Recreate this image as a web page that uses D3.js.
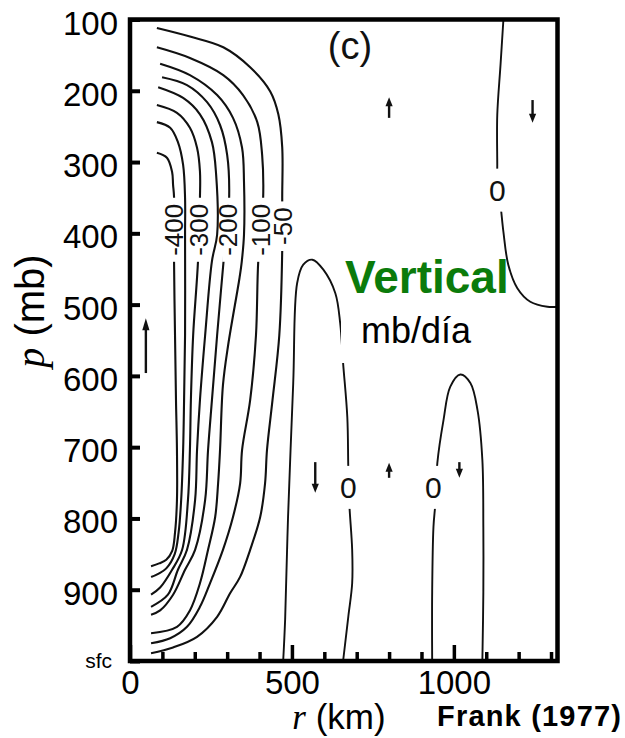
<!DOCTYPE html>
<html>
<head>
<meta charset="utf-8">
<script src="https://cdn.jsdelivr.net/npm/d3@7"></script>
<style>
  body { margin: 0; background: #fff; }
  svg { display: block; font-family: 'Liberation Sans', Arial, Helvetica, sans-serif; }
</style>
</head>
<body>
<svg id="chart"></svg>
<script>
// axis ticks
const pressureTicks = [100, 200, 300, 400, 500, 600, 700, 800, 900, 1000];
const pressureTickLabels = ['100', '200', '300', '400', '500', '600', '700', '800', '900', 'sfc'];
const radiusMajorTicks = [0, 500, 1000];
const radiusMinorTicks = [100, 200, 300, 400, 600, 700, 800, 900, 1100, 1200, 1300];

// contour levels (mb/day) and their lines as [r km, p mb]
const contourLevels = [-50, -100, -150, -200, -250, -300, -350, -400, 0, 0, 0];
const contourLines = [
  [[83,112],[185,124],[288,139],[371,167],[433,201],[458,233],[470,279],[470,350],[470,424],[461,543],[440,634],[423,704],[417,751],[402,798],[371,844],[340,882],[309,905],[269,938],[207,966],[133,981],[65,989]],
  [[83,139],[185,154],[288,178],[349,206],[393,244],[408,290],[411,353],[396,439],[389,543],[371,634],[346,704],[340,751],[318,798],[287,844],[247,891],[216,924],[176,952],[124,968],[65,975]],
  [[93,162],[185,178],[269,206],[318,238],[346,280],[352,328],[352,402],[345,440],[338,463],[303,557],[287,613],[278,704],[272,751],[263,798],[241,844],[216,891],[185,929],[145,952],[65,961]],
  [[99,181],[176,192],[238,216],[278,248],[300,290],[306,353],[294,413],[269,543],[253,634],[241,704],[232,774],[201,844],[170,872],[133,907],[93,929],[65,935]],
  [[87,195],[164,210],[216,233],[253,272],[266,318],[269,402],[253,439],[232,543],[216,634],[207,704],[201,774],[176,844],[148,872],[117,907],[65,924]],
  [[83,220],[145,231],[185,252],[207,280],[216,313],[216,350],[210,439],[195,543],[188,634],[185,704],[179,774],[161,844],[130,872],[93,897],[65,907]],
  [[83,244],[124,252],[148,272],[164,304],[170,350],[170,402],[170,543],[167,634],[164,704],[158,774],[150,820],[138,850],[112,870],[90,877],[65,882]],
  [[83,287],[114,294],[130,314],[133,332],[136,349],[136,439],[139,543],[142,634],[145,704],[145,774],[139,820],[130,846],[112,858],[90,863],[65,867]],
  [[473,1000],[479,942],[488,798],[504,610],[516,470],[535,444],[563,437],[597,451],[634,484],[649,526],[658,582],[671,658],[674,728],[677,778],[686,844],[686,891],[674,938],[658,1000]],
  [[933,1000],[933,904],[937,812],[943,778],[949,722],[968,662],[989,615],[1020,598],[1051,610],[1073,648],[1088,718],[1091,812],[1091,904],[1088,1000]],
  [[1153,100],[1144,164],[1134,234],[1134,304],[1134,328],[1144,360],[1153,398],[1168,444],[1196,477],[1236,496],[1289,503],[1320,503]]
];

// contour labels placed on the lines
const labelText = ['-400', '-300', '-200', '-100', '-50', '0', '0', '0'];
const labelR = [136, 213, 300, 403, 470, 674, 937, 1134];
const labelP = [395, 395, 395, 395, 390, 756, 756, 339];
const labelRotated = [true, true, true, true, true, false, false, false];

// direction arrows: r, tail p, head p
const arrowR = [49, 572, 800, 1017, 800, 1243];
const arrowTail = [596, 721, 743, 721, 238, 213];
const arrowHead = [519, 764, 722, 743, 209, 245];

const W = 625, H = 738;
const svg = d3.select('#chart').attr('width', W).attr('height', H);

const x = d3.scaleLinear().domain([0, 1320]).range([130, 557.5]);
const y = d3.scaleLinear().domain([100, 1000]).range([19.5, 661]);

// mask used to break contours under their labels
const defs = svg.append('defs');
const mask = defs.append('mask').attr('id', 'labelMask')
  .attr('maskUnits', 'userSpaceOnUse')
  .attr('x', 0).attr('y', 0).attr('width', W).attr('height', H);
mask.append('rect').attr('width', W).attr('height', H).attr('fill', 'white');

const line = d3.line()
  .x(d => x(d[0]))
  .y(d => y(d[1]))
  .curve(d3.curveCatmullRom.alpha(0.5));

svg.append('g')
  .attr('mask', 'url(#labelMask)')
  .selectAll('path')
  .data(contourLines)
  .enter()
  .append('path')
  .attr('d', line)
  .attr('fill', 'none')
  .attr('stroke', '#111')
  .attr('stroke-width', (d, i) => contourLevels[i] === 0 ? 1.9 : 2.1);

// labels
labelText.forEach((t, i) => {
  const tr = `translate(${x(labelR[i])},${y(labelP[i])})` + (labelRotated[i] ? ' rotate(-90)' : '');
  const txt = svg.append('text')
    .attr('transform', tr)
    .attr('text-anchor', 'middle')
    .attr('dy', '0.36em')
    .attr('font-size', labelRotated[i] ? 26 : 30)
    .attr('fill', '#111')
    .text(t);
  const bb = txt.node().getBBox();
  if (labelRotated[i]) {
    mask.append('rect').attr('transform', tr)
      .attr('x', bb.x - 6).attr('width', bb.width + 12)
      .attr('y', -5).attr('height', 10).attr('fill', 'black');
  } else {
    mask.append('rect').attr('transform', tr)
      .attr('x', -6).attr('width', 12)
      .attr('y', bb.y - 5).attr('height', bb.height + 10).attr('fill', 'black');
  }
});

// arrows
arrowR.forEach((r, i) => {
  const ax = x(r), y0 = y(arrowTail[i]), y1 = y(arrowHead[i]);
  const dir = y1 < y0 ? -1 : 1;
  const hl = i === 0 ? 12 : 9, hw = 3.6;
  svg.append('line')
    .attr('x1', ax).attr('x2', ax)
    .attr('y1', y0).attr('y2', y1 - dir * hl * 0.6)
    .attr('stroke', '#111').attr('stroke-width', 2.4);
  svg.append('path')
    .attr('d', `M${ax},${y1} L${ax - hw},${y1 - dir * hl} L${ax + hw},${y1 - dir * hl} Z`)
    .attr('fill', '#111');
});

// axes
const yAxis = d3.axisLeft(y)
  .tickValues(pressureTicks)
  .tickSize(-10)
  .tickPadding(12)
  .tickFormat((d, i) => pressureTickLabels[i]);
const gy = svg.append('g').attr('transform', 'translate(130,0)').call(yAxis);
gy.select('.domain').remove();
gy.selectAll('line').attr('stroke', '#000').attr('stroke-width', 4);
gy.selectAll('text')
  .attr('fill', '#000')
  .attr('font-size', 33)
  .attr('dy', '0.44em')
  .attr('font-family', "'Liberation Sans', Arial, sans-serif");
gy.selectAll('text').filter(d => d === 1000)
  .attr('font-size', 21)
  .attr('x', -18)
  .attr('dy', '0.3em');

const xAxisMinor = d3.axisBottom(x).tickValues(radiusMinorTicks).tickSize(-9).tickFormat('');
const gxm = svg.append('g').attr('transform', 'translate(0,661)').call(xAxisMinor);
gxm.select('.domain').remove();
gxm.selectAll('line').attr('stroke', '#000').attr('stroke-width', 3.5);

const xAxis = d3.axisBottom(x)
  .tickValues(radiusMajorTicks)
  .tickSize(-16)
  .tickPadding(10)
  .tickFormat(d3.format('d'));
const gx = svg.append('g').attr('transform', 'translate(0,661)').call(xAxis);
gx.select('.domain').remove();
gx.selectAll('line').attr('stroke', '#000').attr('stroke-width', 3.5);
gx.selectAll('text')
  .attr('fill', '#000')
  .attr('font-size', 33)
  .attr('font-family', "'Liberation Sans', Arial, sans-serif");

// frame
svg.append('rect')
  .attr('x', x.range()[0]).attr('y', y.range()[0])
  .attr('width', x.range()[1] - x.range()[0])
  .attr('height', y.range()[1] - y.range()[0])
  .attr('fill', 'none')
  .attr('stroke', '#000')
  .attr('stroke-width', 4.5);

// axis titles
const yTitle = svg.append('text')
  .attr('transform', 'translate(44,311) rotate(-90)')
  .attr('text-anchor', 'middle')
  .attr('font-size', 40)
  .attr('fill', '#000');
yTitle.append('tspan').attr('font-family', "'Liberation Serif', 'Times New Roman', serif").attr('font-style', 'italic').text('p');
yTitle.append('tspan').text(' (mb)');

const xTitle = svg.append('text')
  .attr('x', 339).attr('y', 729)
  .attr('text-anchor', 'middle')
  .attr('font-size', 35)
  .attr('fill', '#000');
xTitle.append('tspan').attr('font-family', "'Liberation Serif', 'Times New Roman', serif").attr('font-style', 'italic').text('r');
xTitle.append('tspan').text(' (km)');

svg.append('text')
  .attr('x', 437).attr('y', 726)
  .attr('font-size', 29).attr('font-weight', 'bold')
  .attr('fill', '#000')
  .attr('textLength', 184)
  .text('Frank (1977)');

svg.append('text')
  .attr('x', 350).attr('y', 59)
  .attr('text-anchor', 'middle')
  .attr('font-size', 38)
  .attr('fill', '#111')
  .text('(c)');

// annotation
svg.append('text')
  .attr('x', 345).attr('y', 293)
  .attr('font-size', 46).attr('font-weight', 'bold')
  .attr('fill', '#0b7b0b')
  .text('Vertical');

svg.append('rect')
  .attr('x', 341).attr('y', 310)
  .attr('width', 138).attr('height', 53)
  .attr('fill', '#fff');
svg.append('text')
  .attr('x', 361).attr('y', 343)
  .attr('font-size', 36)
  .attr('fill', '#000')
  .text('mb/día');
</script>
</body>
</html>
